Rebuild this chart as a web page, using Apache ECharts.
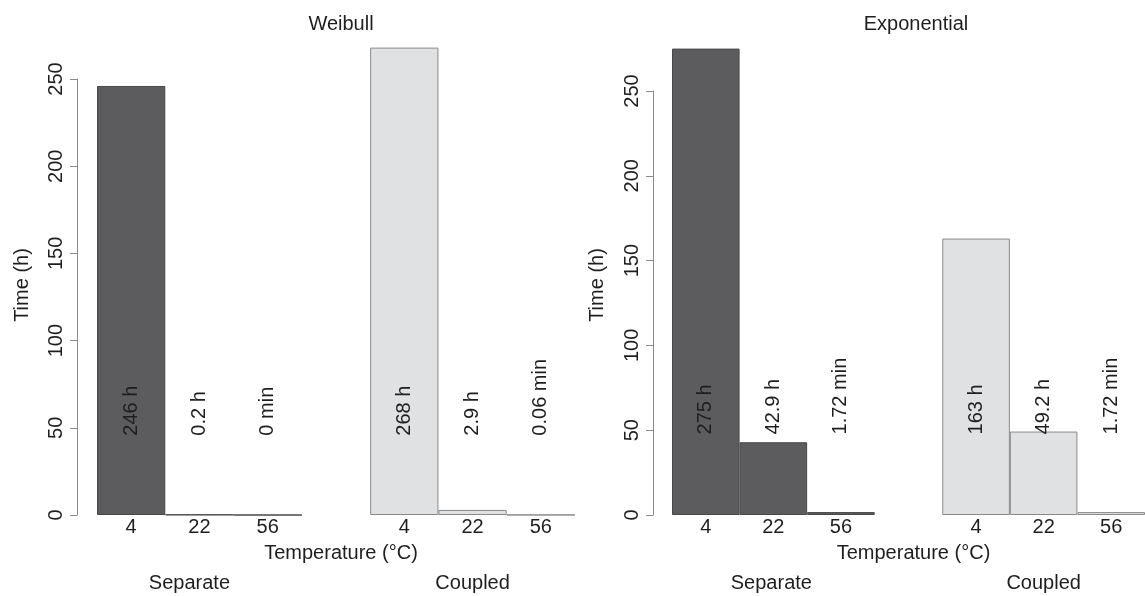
<!DOCTYPE html>
<html>
<head>
<meta charset="utf-8">
<script src="https://cdn.jsdelivr.net/npm/echarts@6/dist/echarts.min.js"></script>
<style>html,body{margin:0;padding:0;background:#fff;}#c{width:1145px;height:596px;}</style>
</head>
<body>
<div id="c"></div>
<script>
// ---- data ----
const temperatures = ['4', '22', '56'];
const groups = ['Separate', 'Coupled'];
const panelTitles = ['Weibull', 'Exponential'];
const weibullSeparate = [246, 0.2, 0];
const weibullCoupled = [268, 2.9, 0.06];
const expSeparate = [275, 42.9, 1.72];
const expCoupled = [163, 49.2, 1.72];
const weibullSeparateText = ['246 h', '0.2 h', '0 min'];
const weibullCoupledText = ['268 h', '2.9 h', '0.06 min'];
const expSeparateText = ['275 h', '42.9 h', '1.72 min'];
const expCoupledText = ['163 h', '49.2 h', '1.72 min'];
const yMin = 0, yMax = 250, yInterval = 50;
const labelY = [45.5, 47.5];

// ---- build ----
const FONT = "'Liberation Sans', Arial, Helvetica, sans-serif";
const TXT = '#1e1e1e';
const AX = '#8a8a8a';
const slotLabels = temperatures.concat([''], temperatures);
const slotKeys = slotLabels.map((_, i) => 's' + i);
const groupSlot = ['', groups[0], '', '', '', groups[1], ''];
const gap = [null];
const pad = arr => arr.concat(gap, [null, null, null]);
const padL = arr => [null, null, null].concat(gap, arr);

const panels = [
  {sep: weibullSeparate, cou: weibullCoupled, text: weibullSeparateText.concat([''], weibullCoupledText),
   grid: {left: 97, top: 79, width: 478, height: 436}, yOffset: 20, titleX: 336, yNameX: 22, sepShift: 20},
  {sep: expSeparate, cou: expCoupled, text: expSeparateText.concat([''], expCoupledText),
   grid: {left: 672, top: 91, width: 478, height: 424}, yOffset: 19, titleX: 911, yNameX: 597, sepShift: 4}
];

const option = {
  animation: false,
  backgroundColor: '#fff',
  textStyle: {fontFamily: FONT},
  title: panels.map((p, i) => ({
    text: panelTitles[i], left: p.titleX, top: 9, textAlign: 'center',
    textStyle: {fontSize: 20, fontWeight: 'normal', color: TXT, fontFamily: FONT}
  })),
  graphic: panels.map(p => ({
    type: 'text', x: p.yNameX, y: 285, rotation: Math.PI / 2,
    style: {text: 'Time (h)', fontSize: 20, fill: TXT, fontFamily: FONT, align: 'center', verticalAlign: 'middle'}
  })),
  grid: panels.map(p => p.grid),
  xAxis: [],
  yAxis: [],
  series: []
};

panels.forEach((p, i) => {
  option.xAxis.push({
    gridIndex: i, type: 'category', data: slotKeys,
    axisLine: {show: false}, axisTick: {show: false}, splitLine: {show: false},
    axisLabel: {interval: 0, margin: 2, fontSize: 20, color: TXT, fontFamily: FONT,
      formatter: (v, idx) => slotLabels[idx]},
    name: 'Temperature (°C)', nameLocation: 'middle', nameGap: 28,
    nameTextStyle: {fontSize: 20, color: TXT, fontFamily: FONT, padding: [0, 0, 0, 10]}
  });
  option.xAxis.push({
    gridIndex: i, type: 'category', position: 'bottom', offset: 58,
    data: slotKeys.map((k, idx) => idx === 1 ? {value: k, textStyle: {padding: [0, p.sepShift, 0, 0]}} : k),
    axisLine: {show: false}, axisTick: {show: false}, splitLine: {show: false},
    axisLabel: {interval: 0, margin: 0, fontSize: 20, color: TXT, fontFamily: FONT,
      formatter: (v, idx) => groupSlot[idx]}
  });
  option.yAxis.push({
    gridIndex: i, type: 'value', min: yMin, max: yMax, interval: yInterval, offset: p.yOffset,
    axisLine: {show: true, lineStyle: {color: AX, width: 1}},
    axisTick: {show: true, length: 7, lineStyle: {color: AX, width: 1}},
    splitLine: {show: false},
    axisLabel: {rotate: 90, margin: 11, fontSize: 20, color: TXT, fontFamily: FONT}
  });
  const xi = i * 2;
  option.series.push({
    name: groups[0], type: 'bar', xAxisIndex: xi, yAxisIndex: i, data: pad(p.sep),
    barCategoryGap: '0%', barGap: '-100%', clip: false,
    itemStyle: {color: '#5c5c5e', borderColor: '#484848', borderWidth: 1}
  });
  option.series.push({
    name: groups[1], type: 'bar', xAxisIndex: xi, yAxisIndex: i, data: padL(p.cou),
    barCategoryGap: '0%', barGap: '-100%', clip: false,
    itemStyle: {color: '#e0e1e3', borderColor: '#8a8a8a', borderWidth: 1}
  });
  option.series.push({
    type: 'scatter', xAxisIndex: xi, yAxisIndex: i, silent: true, z: 10,
    data: slotLabels.map((s, idx) => p.text[idx] ? labelY[i] : null),
    symbolSize: 1, itemStyle: {color: '#000', opacity: 0},
    label: {show: true, position: 'inside', rotate: 90, align: 'left', verticalAlign: 'middle',
      fontSize: 20, color: TXT, opacity: 1, fontFamily: FONT, textBorderWidth: 0, textShadowBlur: 0,
      formatter: q => p.text[q.dataIndex]}
  });
});

const chart = echarts.init(document.getElementById('c'), null, {renderer: 'canvas'});
chart.setOption(option);
</script>
</body>
</html>
